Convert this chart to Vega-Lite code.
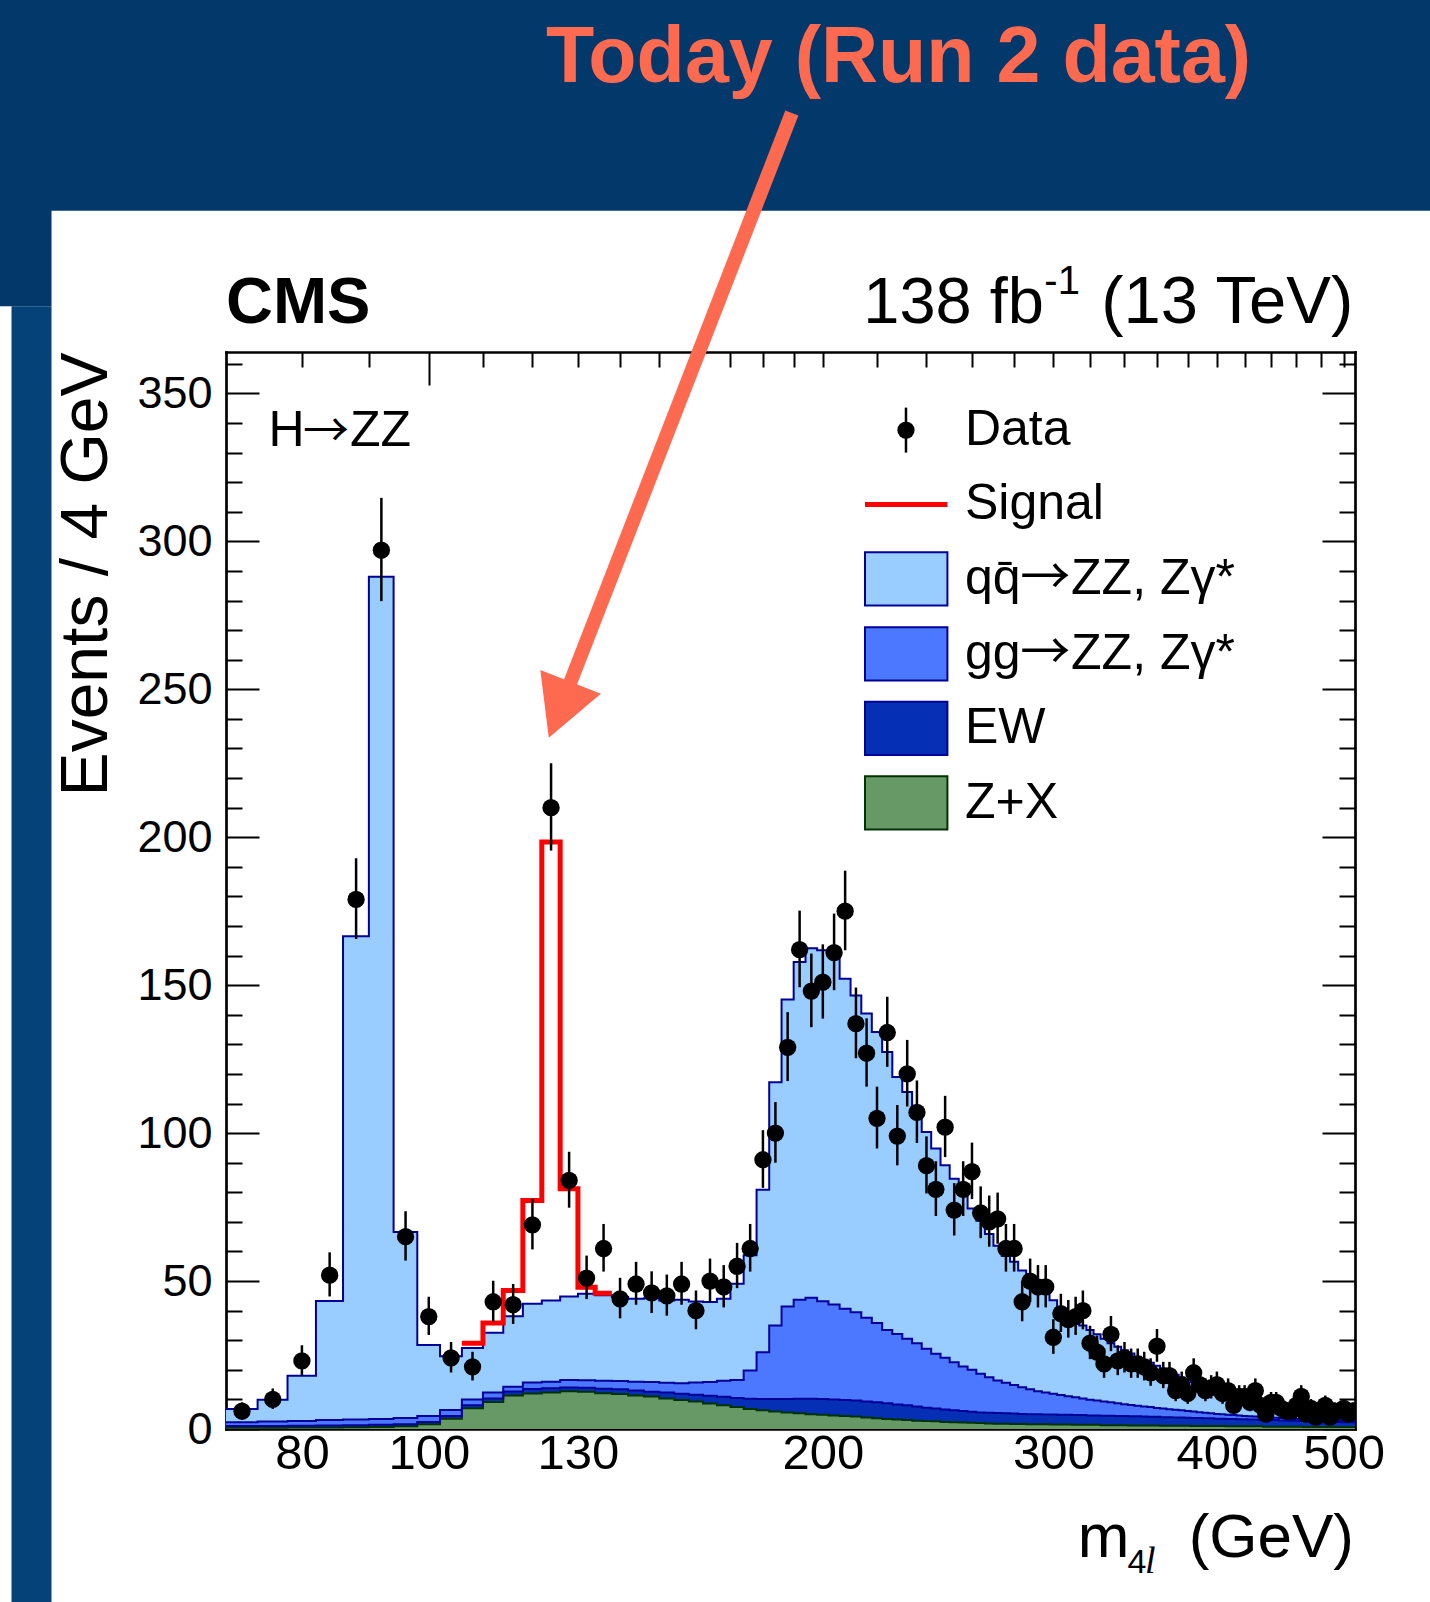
{
  "$schema": "https://vega.github.io/schema/vega-lite/v6.json",
  "width": 1129,
  "height": 1077,
  "autosize": {"type": "none"},
  "padding": {"left": 226, "top": 352, "right": 75, "bottom": 173},
  "background": "white",
  "config": {
    "view": {"stroke": null},
    "axis": {"domain": true, "domainColor": "black", "domainWidth": 2.7, "domainCap": "square", "tickColor": "black", "tickWidth": 2, "grid": false, "labelFont": "Liberation Sans", "labelColor": "black", "zindex": 1}
  },
  "datasets": {
    "bins": [
      {"lo":70,"m":72,"d_zx":0.4,"c_ew":0.6,"b_gg":1.3,"a_qq":4.5,"obs":6,"elo":3.6,"ehi":9.0},
      {"lo":74,"m":76,"d_zx":0.4,"c_ew":0.6,"b_gg":1.5,"a_qq":7.4,"obs":10,"elo":6.8,"ehi":13.7},
      {"lo":78,"m":80,"d_zx":0.5,"c_ew":0.6,"b_gg":1.6,"a_qq":15.3,"obs":23,"elo":18.2,"ehi":28.3},
      {"lo":82,"m":84,"d_zx":0.5,"c_ew":0.7,"b_gg":1.8,"a_qq":40.3,"obs":52,"elo":44.8,"ehi":59.7},
      {"lo":86,"m":88,"d_zx":0.6,"c_ew":0.7,"b_gg":1.9,"a_qq":163.3,"obs":179,"elo":165.6,"ehi":192.9},
      {"lo":90,"m":92,"d_zx":0.7,"c_ew":0.7,"b_gg":2.0,"a_qq":284.6,"obs":297,"elo":279.8,"ehi":314.7},
      {"lo":94,"m":96,"d_zx":0.9,"c_ew":0.7,"b_gg":2.1,"a_qq":62.9,"obs":65,"elo":56.9,"ehi":73.6},
      {"lo":98,"m":100,"d_zx":1.6,"c_ew":0.8,"b_gg":2.0,"a_qq":24.0,"obs":38,"elo":31.8,"ehi":44.7},
      {"lo":102,"m":104,"d_zx":3.5,"c_ew":0.9,"b_gg":2.0,"a_qq":18.2,"obs":24,"elo":19.1,"ehi":29.4},
      {"lo":106,"m":108,"d_zx":7.0,"c_ew":1.0,"b_gg":2.0,"a_qq":17.4,"obs":21,"elo":16.4,"ehi":26.1},
      {"lo":110,"m":112,"d_zx":9.1,"c_ew":1.2,"b_gg":2.0,"a_qq":20.2,"obs":43,"elo":36.4,"ehi":50.1},
      {"lo":114,"m":116,"d_zx":11.3,"c_ew":1.4,"b_gg":1.6,"a_qq":23.8,"obs":42,"elo":35.5,"ehi":49.0},
      {"lo":118,"m":120,"d_zx":12.0,"c_ew":1.5,"b_gg":2.2,"a_qq":26.6,"obs":69,"elo":60.7,"ehi":77.8},
      {"lo":122,"m":124,"d_zx":12.3,"c_ew":1.5,"b_gg":2.2,"a_qq":27.4,"obs":210,"elo":195.5,"ehi":225.0},
      {"lo":126,"m":128,"d_zx":12.8,"c_ew":1.2,"b_gg":2.6,"a_qq":28.2,"obs":84,"elo":74.8,"ehi":93.7},
      {"lo":130,"m":132,"d_zx":12.6,"c_ew":1.3,"b_gg":2.6,"a_qq":29.2,"obs":51,"elo":43.9,"ehi":58.6},
      {"lo":134,"m":136,"d_zx":12.1,"c_ew":1.5,"b_gg":2.7,"a_qq":28.9,"obs":61,"elo":53.2,"ehi":69.3},
      {"lo":138,"m":140,"d_zx":11.8,"c_ew":1.6,"b_gg":2.8,"a_qq":28.4,"obs":44,"elo":37.4,"ehi":51.1},
      {"lo":142,"m":144,"d_zx":11.3,"c_ew":1.7,"b_gg":3.0,"a_qq":28.0,"obs":49,"elo":42.0,"ehi":56.5},
      {"lo":146,"m":148,"d_zx":11.0,"c_ew":1.6,"b_gg":3.3,"a_qq":28.3,"obs":46,"elo":39.2,"ehi":53.3},
      {"lo":150,"m":152,"d_zx":10.3,"c_ew":2.0,"b_gg":3.3,"a_qq":27.8,"obs":45,"elo":38.3,"ehi":52.2},
      {"lo":154,"m":156,"d_zx":9.8,"c_ew":2.1,"b_gg":3.6,"a_qq":28.2,"obs":49,"elo":42.0,"ehi":56.5},
      {"lo":158,"m":160,"d_zx":9.3,"c_ew":2.3,"b_gg":4.1,"a_qq":27.4,"obs":40,"elo":33.7,"ehi":46.8},
      {"lo":162,"m":164,"d_zx":8.6,"c_ew":2.6,"b_gg":4.7,"a_qq":27.0,"obs":50,"elo":42.9,"ehi":57.6},
      {"lo":166,"m":168,"d_zx":8.0,"c_ew":2.9,"b_gg":5.4,"a_qq":27.7,"obs":48,"elo":41.1,"ehi":55.4},
      {"lo":170,"m":172,"d_zx":7.4,"c_ew":3.1,"b_gg":6.1,"a_qq":32.5,"obs":55,"elo":47.6,"ehi":62.9},
      {"lo":174,"m":176,"d_zx":6.8,"c_ew":3.4,"b_gg":9.6,"a_qq":38.9,"obs":61,"elo":53.2,"ehi":69.3},
      {"lo":178,"m":180,"d_zx":6.3,"c_ew":3.8,"b_gg":15.8,"a_qq":55.0,"obs":91,"elo":81.5,"ehi":101.0},
      {"lo":182,"m":184,"d_zx":5.9,"c_ew":4.2,"b_gg":24.9,"a_qq":82.2,"obs":100,"elo":90.0,"ehi":110.5},
      {"lo":186,"m":188,"d_zx":5.6,"c_ew":4.5,"b_gg":31.3,"a_qq":103.8,"obs":129,"elo":117.6,"ehi":140.9},
      {"lo":190,"m":192,"d_zx":5.3,"c_ew":4.9,"b_gg":33.5,"a_qq":114.1,"obs":162,"elo":149.3,"ehi":175.2},
      {"lo":194,"m":196,"d_zx":5.0,"c_ew":5.2,"b_gg":34.2,"a_qq":118.1,"obs":148,"elo":135.8,"ehi":160.7},
      {"lo":198,"m":200,"d_zx":4.8,"c_ew":5.3,"b_gg":33.1,"a_qq":118.6,"obs":151,"elo":138.7,"ehi":163.8},
      {"lo":202,"m":204,"d_zx":4.6,"c_ew":5.4,"b_gg":32.1,"a_qq":118.9,"obs":161,"elo":148.3,"ehi":174.2},
      {"lo":206,"m":208,"d_zx":4.4,"c_ew":5.4,"b_gg":30.8,"a_qq":111.6,"obs":175,"elo":161.8,"ehi":188.7},
      {"lo":210,"m":212,"d_zx":4.2,"c_ew":5.4,"b_gg":29.9,"a_qq":107.0,"obs":137,"elo":125.3,"ehi":149.2},
      {"lo":214,"m":216,"d_zx":3.9,"c_ew":5.4,"b_gg":28.3,"a_qq":102.8,"obs":127,"elo":115.7,"ehi":138.8},
      {"lo":218,"m":220,"d_zx":3.6,"c_ew":5.4,"b_gg":26.8,"a_qq":98.4,"obs":105,"elo":94.8,"ehi":115.7},
      {"lo":222,"m":224,"d_zx":3.4,"c_ew":5.3,"b_gg":24.8,"a_qq":93.9,"obs":134,"elo":122.4,"ehi":146.1},
      {"lo":226,"m":228,"d_zx":3.2,"c_ew":5.1,"b_gg":23.8,"a_qq":86.9,"obs":99,"elo":89.1,"ehi":109.5},
      {"lo":230,"m":232,"d_zx":3.0,"c_ew":5.0,"b_gg":22.5,"a_qq":83.4,"obs":120,"elo":109.0,"ehi":131.5},
      {"lo":234,"m":236,"d_zx":2.8,"c_ew":4.8,"b_gg":21.4,"a_qq":78.7,"obs":107,"elo":96.7,"ehi":117.8},
      {"lo":238,"m":240,"d_zx":2.7,"c_ew":4.5,"b_gg":19.9,"a_qq":73.3,"obs":89,"elo":79.6,"ehi":98.9},
      {"lo":242,"m":244,"d_zx":2.6,"c_ew":4.3,"b_gg":18.5,"a_qq":69.4,"obs":81,"elo":72.0,"ehi":90.5},
      {"lo":246,"m":248,"d_zx":2.4,"c_ew":4.2,"b_gg":17.5,"a_qq":65.0,"obs":102,"elo":91.9,"ehi":112.6},
      {"lo":250,"m":252,"d_zx":2.3,"c_ew":4.0,"b_gg":16.3,"a_qq":62.0,"obs":74,"elo":65.4,"ehi":83.1},
      {"lo":254,"m":256,"d_zx":2.2,"c_ew":3.9,"b_gg":15.0,"a_qq":59.4,"obs":81,"elo":72.0,"ehi":90.5},
      {"lo":258,"m":260,"d_zx":2.1,"c_ew":3.7,"b_gg":14.2,"a_qq":54.5,"obs":87,"elo":77.7,"ehi":96.8},
      {"lo":262,"m":264,"d_zx":2.0,"c_ew":3.6,"b_gg":13.1,"a_qq":51.7,"obs":73,"elo":64.5,"ehi":82.0},
      {"lo":266,"m":268,"d_zx":1.9,"c_ew":3.6,"b_gg":12.0,"a_qq":48.4,"obs":70,"elo":61.6,"ehi":78.9},
      {"lo":270,"m":272,"d_zx":1.8,"c_ew":3.6,"b_gg":11.0,"a_qq":45.5,"obs":71,"elo":62.6,"ehi":79.9},
      {"lo":274,"m":276,"d_zx":1.8,"c_ew":3.5,"b_gg":10.3,"a_qq":42.9,"obs":61,"elo":53.2,"ehi":69.3},
      {"lo":278,"m":280,"d_zx":1.7,"c_ew":3.5,"b_gg":9.7,"a_qq":41.6,"obs":61,"elo":53.2,"ehi":69.3},
      {"lo":282,"m":284,"d_zx":1.7,"c_ew":3.4,"b_gg":9.0,"a_qq":39.5,"obs":43,"elo":36.4,"ehi":50.1},
      {"lo":286,"m":288,"d_zx":1.6,"c_ew":3.4,"b_gg":8.4,"a_qq":37.6,"obs":50,"elo":42.9,"ehi":57.6},
      {"lo":290,"m":292,"d_zx":1.6,"c_ew":3.4,"b_gg":7.8,"a_qq":35.7,"obs":48,"elo":41.1,"ehi":55.4},
      {"lo":294,"m":296,"d_zx":1.6,"c_ew":3.3,"b_gg":7.4,"a_qq":33.7,"obs":48,"elo":41.1,"ehi":55.4},
      {"lo":298,"m":300,"d_zx":1.5,"c_ew":3.4,"b_gg":7.0,"a_qq":31.6,"obs":31,"elo":25.4,"ehi":37.1},
      {"lo":302,"m":304,"d_zx":1.5,"c_ew":3.3,"b_gg":6.7,"a_qq":29.0,"obs":39,"elo":32.8,"ehi":45.7},
      {"lo":306,"m":308,"d_zx":1.5,"c_ew":3.3,"b_gg":6.3,"a_qq":27.7,"obs":37,"elo":30.9,"ehi":43.6},
      {"lo":310,"m":312,"d_zx":1.4,"c_ew":3.3,"b_gg":6.0,"a_qq":26.3,"obs":38,"elo":31.8,"ehi":44.7},
      {"lo":314,"m":316,"d_zx":1.4,"c_ew":3.3,"b_gg":5.6,"a_qq":24.7,"obs":40,"elo":33.7,"ehi":46.8},
      {"lo":318,"m":320,"d_zx":1.4,"c_ew":3.2,"b_gg":5.3,"a_qq":23.6,"obs":29,"elo":23.6,"ehi":34.9},
      {"lo":322,"m":324,"d_zx":1.4,"c_ew":3.2,"b_gg":5.0,"a_qq":22.4,"obs":26,"elo":20.9,"ehi":31.6},
      {"lo":326,"m":328,"d_zx":1.3,"c_ew":3.2,"b_gg":4.8,"a_qq":21.2,"obs":22,"elo":17.3,"ehi":27.2},
      {"lo":330,"m":332,"d_zx":1.3,"c_ew":3.2,"b_gg":4.5,"a_qq":20.0,"obs":32,"elo":26.3,"ehi":38.2},
      {"lo":334,"m":336,"d_zx":1.3,"c_ew":3.1,"b_gg":4.3,"a_qq":19.1,"obs":23,"elo":18.2,"ehi":28.3},
      {"lo":338,"m":340,"d_zx":1.3,"c_ew":3.1,"b_gg":4.0,"a_qq":18.2,"obs":24,"elo":19.1,"ehi":29.4},
      {"lo":342,"m":344,"d_zx":1.2,"c_ew":3.1,"b_gg":3.8,"a_qq":17.4,"obs":22,"elo":17.3,"ehi":27.2},
      {"lo":346,"m":348,"d_zx":1.2,"c_ew":3.1,"b_gg":3.6,"a_qq":16.5,"obs":22,"elo":17.3,"ehi":27.2},
      {"lo":350,"m":352,"d_zx":1.2,"c_ew":3.0,"b_gg":3.4,"a_qq":15.8,"obs":21,"elo":16.4,"ehi":26.1},
      {"lo":354,"m":356,"d_zx":1.2,"c_ew":2.9,"b_gg":3.3,"a_qq":15.0,"obs":19,"elo":14.6,"ehi":23.9},
      {"lo":358,"m":360,"d_zx":1.2,"c_ew":2.9,"b_gg":3.0,"a_qq":14.3,"obs":28,"elo":22.7,"ehi":33.8},
      {"lo":362,"m":364,"d_zx":1.1,"c_ew":2.9,"b_gg":2.9,"a_qq":13.5,"obs":18,"elo":13.8,"ehi":22.7},
      {"lo":366,"m":368,"d_zx":1.1,"c_ew":2.9,"b_gg":2.7,"a_qq":12.6,"obs":18,"elo":13.8,"ehi":22.7},
      {"lo":370,"m":372,"d_zx":1.1,"c_ew":2.8,"b_gg":2.6,"a_qq":11.8,"obs":13,"elo":9.4,"ehi":17.1},
      {"lo":374,"m":376,"d_zx":1.1,"c_ew":2.8,"b_gg":2.4,"a_qq":11.1,"obs":15,"elo":11.1,"ehi":19.4},
      {"lo":378,"m":380,"d_zx":1.1,"c_ew":2.7,"b_gg":2.3,"a_qq":10.5,"obs":12,"elo":8.5,"ehi":16.0},
      {"lo":382,"m":384,"d_zx":1.0,"c_ew":2.7,"b_gg":2.2,"a_qq":9.9,"obs":19,"elo":14.6,"ehi":23.9},
      {"lo":386,"m":388,"d_zx":1.0,"c_ew":2.7,"b_gg":2.0,"a_qq":9.3,"obs":15,"elo":11.1,"ehi":19.4},
      {"lo":390,"m":392,"d_zx":1.0,"c_ew":2.6,"b_gg":1.9,"a_qq":8.8,"obs":13,"elo":9.4,"ehi":17.1},
      {"lo":394,"m":396,"d_zx":1.0,"c_ew":2.6,"b_gg":1.7,"a_qq":8.3,"obs":14,"elo":10.3,"ehi":18.2},
      {"lo":398,"m":400,"d_zx":1.0,"c_ew":2.5,"b_gg":1.6,"a_qq":7.9,"obs":15,"elo":11.1,"ehi":19.4},
      {"lo":402,"m":404,"d_zx":1.0,"c_ew":2.5,"b_gg":1.5,"a_qq":7.4,"obs":12,"elo":8.5,"ehi":16.0},
      {"lo":406,"m":408,"d_zx":0.9,"c_ew":2.5,"b_gg":1.4,"a_qq":7.0,"obs":13,"elo":9.4,"ehi":17.1},
      {"lo":410,"m":412,"d_zx":0.9,"c_ew":2.5,"b_gg":1.3,"a_qq":6.5,"obs":8,"elo":5.2,"ehi":11.3},
      {"lo":414,"m":416,"d_zx":0.9,"c_ew":2.4,"b_gg":1.3,"a_qq":6.1,"obs":11,"elo":7.7,"ehi":14.8},
      {"lo":418,"m":420,"d_zx":0.9,"c_ew":2.4,"b_gg":1.1,"a_qq":5.8,"obs":11,"elo":7.7,"ehi":14.8},
      {"lo":422,"m":424,"d_zx":0.9,"c_ew":2.3,"b_gg":1.1,"a_qq":5.4,"obs":9,"elo":6.0,"ehi":12.5},
      {"lo":426,"m":428,"d_zx":0.9,"c_ew":2.3,"b_gg":1.0,"a_qq":5.1,"obs":13,"elo":9.4,"ehi":17.1},
      {"lo":430,"m":432,"d_zx":0.9,"c_ew":2.2,"b_gg":1.0,"a_qq":4.8,"obs":8,"elo":5.2,"ehi":11.3},
      {"lo":434,"m":436,"d_zx":0.8,"c_ew":2.3,"b_gg":0.9,"a_qq":4.5,"obs":5,"elo":2.8,"ehi":7.7},
      {"lo":438,"m":440,"d_zx":0.8,"c_ew":2.2,"b_gg":0.9,"a_qq":4.2,"obs":9,"elo":6.0,"ehi":12.5},
      {"lo":442,"m":444,"d_zx":0.8,"c_ew":2.2,"b_gg":0.8,"a_qq":4.0,"obs":9,"elo":6.0,"ehi":12.5},
      {"lo":446,"m":448,"d_zx":0.8,"c_ew":2.1,"b_gg":0.8,"a_qq":3.8,"obs":7,"elo":4.4,"ehi":10.1},
      {"lo":450,"m":452,"d_zx":0.8,"c_ew":2.1,"b_gg":0.7,"a_qq":3.6,"obs":6,"elo":3.6,"ehi":9.0},
      {"lo":454,"m":456,"d_zx":0.8,"c_ew":2.0,"b_gg":0.7,"a_qq":3.4,"obs":6,"elo":3.6,"ehi":9.0},
      {"lo":458,"m":460,"d_zx":0.8,"c_ew":2.0,"b_gg":0.6,"a_qq":3.2,"obs":8,"elo":5.2,"ehi":11.3},
      {"lo":462,"m":464,"d_zx":0.8,"c_ew":1.9,"b_gg":0.6,"a_qq":3.0,"obs":11,"elo":7.7,"ehi":14.8},
      {"lo":466,"m":468,"d_zx":0.7,"c_ew":2.0,"b_gg":0.6,"a_qq":2.8,"obs":5,"elo":2.8,"ehi":7.7},
      {"lo":470,"m":472,"d_zx":0.7,"c_ew":1.9,"b_gg":0.6,"a_qq":2.7,"obs":7,"elo":4.4,"ehi":10.1},
      {"lo":474,"m":476,"d_zx":0.7,"c_ew":1.9,"b_gg":0.5,"a_qq":2.6,"obs":4,"elo":2.0,"ehi":6.5},
      {"lo":478,"m":480,"d_zx":0.7,"c_ew":1.8,"b_gg":0.6,"a_qq":2.4,"obs":5,"elo":2.8,"ehi":7.7},
      {"lo":482,"m":484,"d_zx":0.7,"c_ew":1.8,"b_gg":0.5,"a_qq":2.3,"obs":8,"elo":5.2,"ehi":11.3},
      {"lo":486,"m":488,"d_zx":0.7,"c_ew":1.7,"b_gg":0.6,"a_qq":2.1,"obs":4,"elo":2.0,"ehi":6.5},
      {"lo":490,"m":492,"d_zx":0.7,"c_ew":1.7,"b_gg":0.5,"a_qq":2.0,"obs":6,"elo":3.6,"ehi":9.0},
      {"lo":494,"m":496,"d_zx":0.7,"c_ew":1.7,"b_gg":0.5,"a_qq":1.8,"obs":6,"elo":3.6,"ehi":9.0},
      {"lo":498,"m":500,"d_zx":0.7,"c_ew":1.6,"b_gg":0.5,"a_qq":1.8,"obs":7,"elo":4.4,"ehi":10.1},
      {"lo":502,"m":504,"d_zx":0.7,"c_ew":1.6,"b_gg":0.5,"a_qq":1.7,"obs":5,"elo":2.8,"ehi":7.7},
      {"lo":506,"m":508,"d_zx":0.7,"c_ew":1.6,"b_gg":0.4,"a_qq":1.7,"obs":6,"elo":3.6,"ehi":9.0},
      {"lo":510,"d_zx":0.7,"c_ew":1.6,"b_gg":0.4,"a_qq":1.7}
    ],
    "sig": [
      {"lo":106,"exp":29.0},{"lo":110,"exp":35.8},{"lo":114,"exp":46.8},{"lo":118,"exp":77.2},
      {"lo":122,"exp":198.4},{"lo":126,"exp":81.2},{"lo":130,"exp":47.9},{"lo":134,"exp":45.9},{"lo":138,"exp":45.9}
    ],
    "one": [{}]
  },
  "resolve": {"axis": {"x": "independent", "y": "independent"}},
  "layer": [
    {
      "data": {"name": "one"},
      "mark": {"type": "rect", "clip": false, "color": "#03386a"},
      "encoding": {
        "x": {"datum": 40, "type": "quantitative", "axis": null}, "x2": {"datum": 700},
        "y": {"datum": 411.7, "type": "quantitative", "axis": null}, "y2": {"datum": 520}
      }
    },
    {
      "data": {"name": "one"},
      "mark": {"type": "rect", "clip": false, "color": "#03386a"},
      "encoding": {
        "x": {"datum": 40, "type": "quantitative", "axis": null}, "x2": {"datum": 51.5},
        "y": {"datum": 379.5, "type": "quantitative", "axis": null}, "y2": {"datum": 412}
      }
    },
    {
      "data": {"name": "one"},
      "mark": {"type": "rect", "clip": false, "color": "#044278"},
      "encoding": {
        "x": {"datum": 48.0, "type": "quantitative", "axis": null}, "x2": {"datum": 51.5},
        "y": {"datum": 379.5, "type": "quantitative", "axis": null}, "y2": {"datum": -100}
      }
    },
    {
      "data": {"name": "bins"},
      "transform": [{"fold": ["d_zx", "c_ew", "b_gg", "a_qq"], "as": ["proc", "n"]}],
      "mark": {"type": "area", "interpolate": "step-after", "clip": true},
      "encoding": {
        "x": {"field": "lo", "type": "quantitative",
          "scale": {"type": "log", "domain": [70, 510], "nice": false},
          "axis": {"orient": "bottom", "title": null,
            "values": [80,90,100,110,120,130,140,150,160,170,180,190,200,220,240,260,280,300,320,340,360,380,400,420,440,460,480,500],
            "labelExpr": "indexof([80,100,130,200,300,400,500], datum.value) >= 0 ? '' + datum.value : ''",
            "labelFontSize": 49, "labelBaseline": "top", "labelAlign": "center", "labelOverlap": false, "labelFlush": false, "labelBound": false,
            "tickSize": {"condition": {"test": "datum.value === 100", "value": -33}, "value": -15},
            "labelPadding": {"condition": {"test": "datum.value === 100", "value": 33}, "value": 15}}},
        "y": {"field": "n", "type": "quantitative", "stack": "zero",
          "scale": {"domain": [0, 364], "nice": false, "zero": false},
          "axis": {"orient": "left",
            "values": [0,10,20,30,40,50,60,70,80,90,100,110,120,130,140,150,160,170,180,190,200,210,220,230,240,250,260,270,280,290,300,310,320,330,340,350,360],
            "labelExpr": "datum.value % 50 === 0 ? '' + datum.value : ''",
            "labelFontSize": 45, "labelAlign": "right", "labelBaseline": "middle", "labelOverlap": false, "labelFlush": false,
            "tickSize": {"condition": {"test": "datum.value % 50 === 0", "value": -33}, "value": -16},
            "labelPadding": {"condition": {"test": "datum.value % 50 === 0", "value": 47}, "value": 16},
            "title": "Events / 4 GeV", "titleFont": "Liberation Sans", "titleFontSize": 66, "titleFontWeight": "normal", "titleColor": "black",
            "titleAngle": -90, "titleAlign": "right", "titleBaseline": "alphabetic", "titleX": -120, "titleY": 0}},
        "color": {"field": "proc", "type": "nominal",
          "scale": {"domain": ["a_qq", "b_gg", "c_ew", "d_zx"], "range": ["#99ccff", "#4b78ff", "#0530b5", "#669966"]},
          "legend": null},
        "order": {"field": "proc", "sort": "descending"}
      }
    },
    {
      "data": {"name": "bins"},
      "transform": [{"fold": ["d_zx", "c_ew", "b_gg", "a_qq"], "as": ["proc", "n"]}],
      "mark": {"type": "line", "interpolate": "step-after", "strokeWidth": 2, "clip": true},
      "encoding": {
        "x": {"field": "lo", "type": "quantitative",
          "scale": {"type": "log", "domain": [70, 510], "nice": false},
          "axis": {"orient": "top", "title": null, "labels": false,
            "values": [80,90,100,110,120,130,140,150,160,170,180,190,200,220,240,260,280,300,320,340,360,380,400,420,440,460,480,500],
            "tickSize": {"condition": {"test": "datum.value === 100", "value": -33}, "value": -15}}},
        "y": {"field": "n", "type": "quantitative", "stack": "zero",
          "scale": {"domain": [0, 364], "nice": false, "zero": false},
          "axis": {"orient": "right", "title": null, "labels": false,
            "values": [0,10,20,30,40,50,60,70,80,90,100,110,120,130,140,150,160,170,180,190,200,210,220,230,240,250,260,270,280,290,300,310,320,330,340,350,360],
            "tickSize": {"condition": {"test": "datum.value % 50 === 0", "value": -33}, "value": -16}}},
        "stroke": {"field": "proc", "type": "nominal",
          "scale": {"domain": ["a_qq", "b_gg", "c_ew", "d_zx"], "range": ["#000099", "#000099", "#000099", "#003300"]},
          "legend": null},
        "order": {"field": "proc", "sort": "descending"}
      }
    },
    {
      "data": {"name": "sig"},
      "mark": {"type": "line", "interpolate": "step-after", "strokeWidth": 5, "color": "#ff0000", "clip": true},
      "encoding": {
        "x": {"field": "lo", "type": "quantitative", "axis": null},
        "y": {"field": "exp", "type": "quantitative", "axis": null}
      }
    },
    {
      "data": {"name": "bins"},
      "transform": [{"filter": "isValid(datum.obs)"}],
      "mark": {"type": "rule", "color": "black", "strokeWidth": 2.5, "clip": true},
      "encoding": {
        "x": {"field": "m", "type": "quantitative", "axis": null},
        "y": {"field": "elo", "type": "quantitative", "axis": null},
        "y2": {"field": "ehi"}
      }
    },
    {
      "data": {"name": "bins"},
      "transform": [{"filter": "isValid(datum.obs)"}],
      "mark": {"type": "point", "filled": true, "shape": "circle", "size": 300, "opacity": 1, "color": "black", "clip": true},
      "encoding": {
        "x": {"field": "m", "type": "quantitative", "axis": null},
        "y": {"field": "obs", "type": "quantitative", "axis": null}
      }
    },
    {
      "data": {"name": "one"},
      "mark": {"type": "rule", "clip": false, "color": "black", "strokeWidth": 2.5},
      "encoding": {
        "x": {"datum": 231.5, "type": "quantitative", "axis": null},
        "y": {"datum": 330.0, "type": "quantitative", "axis": null}, "y2": {"datum": 345.2}
      }
    },
    {
      "data": {"name": "one"},
      "mark": {"type": "point", "clip": false, "filled": true, "shape": "circle", "size": 300, "opacity": 1, "color": "black"},
      "encoding": {
        "x": {"datum": 231.5, "type": "quantitative", "axis": null},
        "y": {"datum": 337.6, "type": "quantitative", "axis": null}
      }
    },
    {
      "data": {"name": "one"},
      "mark": {"type": "rule", "clip": false, "color": "#ff0000", "strokeWidth": 5},
      "encoding": {
        "x": {"datum": 215.4, "type": "quantitative", "axis": null}, "x2": {"datum": 249.0},
        "y": {"datum": 312.5, "type": "quantitative", "axis": null}
      }
    },
    {
      "data": {"name": "one"},
      "mark": {"type": "rect", "clip": false, "fill": "#99ccff", "stroke": "#000099", "strokeWidth": 2},
      "encoding": {
        "x": {"datum": 215.4, "type": "quantitative", "axis": null}, "x2": {"datum": 249.0},
        "y": {"datum": 278.3, "type": "quantitative", "axis": null}, "y2": {"datum": 296.3}
      }
    },
    {
      "data": {"name": "one"},
      "mark": {"type": "rect", "clip": false, "fill": "#4b78ff", "stroke": "#000099", "strokeWidth": 2},
      "encoding": {
        "x": {"datum": 215.4, "type": "quantitative", "axis": null}, "x2": {"datum": 249.0},
        "y": {"datum": 253.0, "type": "quantitative", "axis": null}, "y2": {"datum": 271.0}
      }
    },
    {
      "data": {"name": "one"},
      "mark": {"type": "rect", "clip": false, "fill": "#0530b5", "stroke": "#000099", "strokeWidth": 2},
      "encoding": {
        "x": {"datum": 215.4, "type": "quantitative", "axis": null}, "x2": {"datum": 249.0},
        "y": {"datum": 227.8, "type": "quantitative", "axis": null}, "y2": {"datum": 245.8}
      }
    },
    {
      "data": {"name": "one"},
      "mark": {"type": "rect", "clip": false, "fill": "#669966", "stroke": "#003300", "strokeWidth": 2},
      "encoding": {
        "x": {"datum": 215.4, "type": "quantitative", "axis": null}, "x2": {"datum": 249.0},
        "y": {"datum": 202.6, "type": "quantitative", "axis": null}, "y2": {"datum": 220.6}
      }
    },
    {
      "data": {"name": "one"},
      "mark": {"type": "text", "clip": false, "text": "Data", "font": "Liberation Sans", "fontSize": 50, "color": "black", "align": "left", "baseline": "middle"},
      "encoding": {"x": {"datum": 256.8, "type": "quantitative", "axis": null}, "y": {"datum": 337.6, "type": "quantitative", "axis": null}}
    },
    {
      "data": {"name": "one"},
      "mark": {"type": "text", "clip": false, "text": "Signal", "font": "Liberation Sans", "fontSize": 50, "color": "black", "align": "left", "baseline": "middle"},
      "encoding": {"x": {"datum": 256.8, "type": "quantitative", "axis": null}, "y": {"datum": 312.5, "type": "quantitative", "axis": null}}
    },
    {
      "data": {"name": "one"},
      "mark": {"type": "text", "clip": false, "text": "qq\u0304", "font": "Liberation Sans", "fontSize": 50, "color": "black", "align": "left", "baseline": "middle"},
      "encoding": {"x": {"datum": 256.8, "type": "quantitative", "axis": null}, "y": {"datum": 287.3, "type": "quantitative", "axis": null}}
    },
    {
      "data": {"name": "one"},
      "mark": {"type": "text", "clip": false, "text": "\u2192", "font": "Noto Sans CJK SC", "fontSize": 50, "color": "black", "align": "center", "baseline": "middle"},
      "encoding": {"x": {"datum": 295.7, "type": "quantitative", "axis": null}, "y": {"datum": 287.3, "type": "quantitative", "axis": null}}
    },
    {
      "data": {"name": "one"},
      "mark": {"type": "text", "clip": false, "text": "ZZ, Z\u03b3*", "font": "Liberation Sans", "fontSize": 50, "color": "black", "align": "left", "baseline": "middle"},
      "encoding": {"x": {"datum": 309.5, "type": "quantitative", "axis": null}, "y": {"datum": 287.3, "type": "quantitative", "axis": null}}
    },
    {
      "data": {"name": "one"},
      "mark": {"type": "text", "clip": false, "text": "gg", "font": "Liberation Sans", "fontSize": 50, "color": "black", "align": "left", "baseline": "middle"},
      "encoding": {"x": {"datum": 256.8, "type": "quantitative", "axis": null}, "y": {"datum": 262.0, "type": "quantitative", "axis": null}}
    },
    {
      "data": {"name": "one"},
      "mark": {"type": "text", "clip": false, "text": "\u2192", "font": "Noto Sans CJK SC", "fontSize": 50, "color": "black", "align": "center", "baseline": "middle"},
      "encoding": {"x": {"datum": 295.7, "type": "quantitative", "axis": null}, "y": {"datum": 262.0, "type": "quantitative", "axis": null}}
    },
    {
      "data": {"name": "one"},
      "mark": {"type": "text", "clip": false, "text": "ZZ, Z\u03b3*", "font": "Liberation Sans", "fontSize": 50, "color": "black", "align": "left", "baseline": "middle"},
      "encoding": {"x": {"datum": 309.5, "type": "quantitative", "axis": null}, "y": {"datum": 262.0, "type": "quantitative", "axis": null}}
    },
    {
      "data": {"name": "one"},
      "mark": {"type": "text", "clip": false, "text": "EW", "font": "Liberation Sans", "fontSize": 50, "color": "black", "align": "left", "baseline": "middle"},
      "encoding": {"x": {"datum": 256.8, "type": "quantitative", "axis": null}, "y": {"datum": 236.8, "type": "quantitative", "axis": null}}
    },
    {
      "data": {"name": "one"},
      "mark": {"type": "text", "clip": false, "text": "Z+X", "font": "Liberation Sans", "fontSize": 50, "color": "black", "align": "left", "baseline": "middle"},
      "encoding": {"x": {"datum": 256.8, "type": "quantitative", "axis": null}, "y": {"datum": 211.6, "type": "quantitative", "axis": null}}
    },
    {
      "data": {"name": "one"},
      "mark": {"type": "rule", "clip": false, "color": "#fe6a50", "strokeWidth": 14},
      "encoding": {
        "x": {"datum": 189.4, "type": "quantitative", "axis": null}, "x2": {"datum": 126.7},
        "y": {"datum": 444.8, "type": "quantitative", "axis": null}, "y2": {"datum": 246.2}
      }
    },
    {
      "data": {"name": "one"},
      "mark": {"type": "point", "clip": false, "shape": "M-1,-0.615L1,-0.615L0,1.23Z", "size": 4225, "angle": 21.3, "filled": true, "color": "#fe6a50", "opacity": 1, "strokeWidth": 0},
      "encoding": {
        "x": {"datum": 126.7, "type": "quantitative", "axis": null},
        "y": {"datum": 246.2, "type": "quantitative", "axis": null}
      }
    },
    {
      "data": {"name": "one"},
      "mark": {"type": "text", "clip": false, "text": "Today (Run 2 data)", "font": "Liberation Sans", "fontWeight": "bold", "fontSize": 79, "color": "#fe6a50", "align": "center", "baseline": "alphabetic"},
      "encoding": {
        "x": {"datum": 228.5, "type": "quantitative", "axis": null},
        "y": {"datum": 455.3, "type": "quantitative", "axis": null}
      }
    },
    {
      "data": {"name": "one"},
      "mark": {"type": "text", "clip": false, "text": "CMS", "font": "Liberation Sans", "fontWeight": "bold", "fontSize": 65, "color": "black", "align": "left", "baseline": "alphabetic"},
      "encoding": {
        "x": {"datum": 70, "type": "quantitative", "axis": null},
        "y": {"datum": 373.9, "type": "quantitative", "axis": null}
      }
    },
    {
      "data": {"name": "one"},
      "mark": {"type": "text", "clip": false, "text": "138 fb", "font": "Liberation Sans", "fontSize": 65, "color": "black", "align": "right", "baseline": "alphabetic"},
      "encoding": {
        "x": {"datum": 295.1, "type": "quantitative", "axis": null},
        "y": {"datum": 373.9, "type": "quantitative", "axis": null}
      }
    },
    {
      "data": {"name": "one"},
      "mark": {"type": "text", "clip": false, "text": "-1", "font": "Liberation Sans", "fontSize": 40, "color": "black", "align": "left", "baseline": "alphabetic"},
      "encoding": {
        "x": {"datum": 295.3, "type": "quantitative", "axis": null},
        "y": {"datum": 383.5, "type": "quantitative", "axis": null}
      }
    },
    {
      "data": {"name": "one"},
      "mark": {"type": "text", "clip": false, "text": "(13 TeV)", "font": "Liberation Sans", "fontSize": 67, "color": "black", "align": "right", "baseline": "alphabetic"},
      "encoding": {
        "x": {"datum": 508.4, "type": "quantitative", "axis": null},
        "y": {"datum": 373.9, "type": "quantitative", "axis": null}
      }
    },
    {
      "data": {"name": "one"},
      "mark": {"type": "text", "clip": false, "text": "H", "font": "Liberation Sans", "fontSize": 50, "color": "black", "align": "left", "baseline": "alphabetic"},
      "encoding": {
        "x": {"datum": 75.45, "type": "quantitative", "axis": null},
        "y": {"datum": 332.1, "type": "quantitative", "axis": null}
      }
    },
    {
      "data": {"name": "one"},
      "mark": {"type": "text", "clip": false, "text": "\u2192", "font": "Noto Sans CJK SC", "fontSize": 46, "color": "black", "align": "center", "baseline": "alphabetic"},
      "encoding": {
        "x": {"datum": 83.46, "type": "quantitative", "axis": null},
        "y": {"datum": 332.1, "type": "quantitative", "axis": null}
      }
    },
    {
      "data": {"name": "one"},
      "mark": {"type": "text", "clip": false, "text": "ZZ", "font": "Liberation Sans", "fontSize": 50, "color": "black", "align": "left", "baseline": "alphabetic"},
      "encoding": {
        "x": {"datum": 87.06, "type": "quantitative", "axis": null},
        "y": {"datum": 332.1, "type": "quantitative", "axis": null}
      }
    },
    {
      "data": {"name": "one"},
      "mark": {"type": "text", "clip": false, "text": "m", "font": "Liberation Sans", "fontSize": 62, "color": "black", "align": "left", "baseline": "alphabetic"},
      "encoding": {
        "x": {"datum": 313.1, "type": "quantitative", "axis": null},
        "y": {"datum": -43.4, "type": "quantitative", "axis": null}
      }
    },
    {
      "data": {"name": "one"},
      "mark": {"type": "text", "clip": false, "text": "4", "font": "Liberation Sans", "fontSize": 34, "color": "black", "align": "left", "baseline": "alphabetic"},
      "encoding": {
        "x": {"datum": 341.8, "type": "quantitative", "axis": null},
        "y": {"datum": -48.6, "type": "quantitative", "axis": null}
      }
    },
    {
      "data": {"name": "one"},
      "mark": {"type": "text", "clip": false, "text": "l", "font": "Liberation Serif", "fontStyle": "italic", "fontSize": 38, "color": "black", "align": "left", "baseline": "alphabetic"},
      "encoding": {
        "x": {"datum": 352.5, "type": "quantitative", "axis": null},
        "y": {"datum": -48.6, "type": "quantitative", "axis": null}
      }
    },
    {
      "data": {"name": "one"},
      "mark": {"type": "text", "clip": false, "text": "(GeV)", "font": "Liberation Sans", "fontSize": 62, "color": "black", "align": "right", "baseline": "alphabetic"},
      "encoding": {
        "x": {"datum": 509.1, "type": "quantitative", "axis": null},
        "y": {"datum": -43.4, "type": "quantitative", "axis": null}
      }
    }
  ]
}
